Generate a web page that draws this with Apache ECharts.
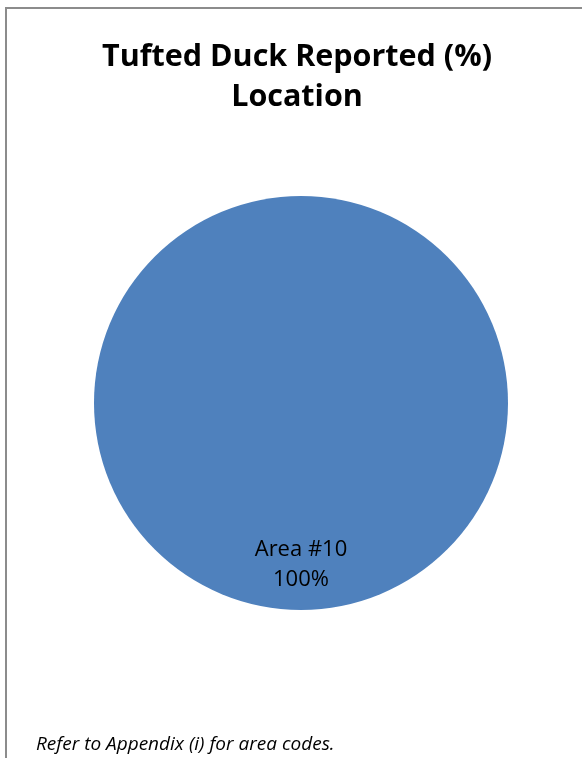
<!DOCTYPE html>
<html><head><meta charset="utf-8">
<script src="https://cdn.jsdelivr.net/npm/echarts@6/dist/echarts.min.js"></script>
<style>
html,body{margin:0;padding:0;background:#fff;overflow:hidden;}
#frame{position:absolute;left:5px;top:7px;width:700px;height:900px;border-left:2px solid #8c8c8c;border-top:2px solid #8c8c8c;}
#chart{position:absolute;left:0;top:0;width:582px;height:758px;}
</style></head>
<body>
<div id="frame"></div>
<div id="chart"></div>
<script>
const titleLines = ['Tufted Duck Reported (%)', 'Location'];
const footnote = 'Refer to Appendix (i) for area codes.';
const categories = ['Area #10'];
const values = [100];

const chart = echarts.init(document.getElementById('chart'), null, {renderer:'canvas'});
chart.setOption({
  animation: false,
  backgroundColor: 'transparent',
  title: [
    {text: titleLines.join('\n'), left: 292, textAlign: 'center', top: 32,
     textStyle: {fontFamily: 'Open Sans', fontWeight: 'bold', fontSize: 30.5, lineHeight: 40, color: '#000'}},
    {text: footnote, left: 31, top: 730,
     textStyle: {fontFamily: 'Open Sans', fontStyle: 'italic', fontWeight: 'normal', fontSize: 19, color: '#000'}}
  ],
  series: [{
    type: 'pie',
    center: [301, 403],
    radius: [0, 207],
    startAngle: 90,
    clockwise: true,
    silent: true,
    itemStyle: {color: '#4f81bd'},
    label: {
      show: true, position: 'inside',
      formatter: p => p.name + '\n' + Math.round(p.percent) + '%',
      fontFamily: 'Open Sans', fontSize: 22, lineHeight: 30, color: '#000'
    },
    labelLayout: {dy: 55},
    labelLine: {show: false},
    data: categories.map((c, i) => ({name: c, value: values[i]}))
  }]
});
</script>
</body></html>
